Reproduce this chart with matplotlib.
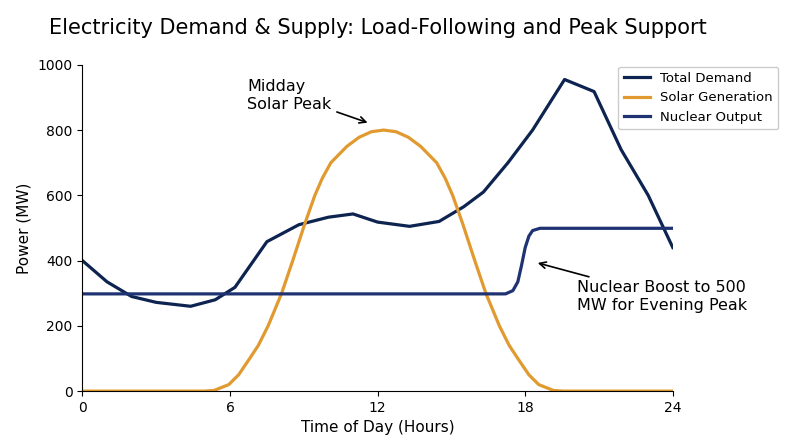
import matplotlib
matplotlib.use("Agg")
import matplotlib.pyplot as plt

demand_hours = [0, 1, 2, 3, 4.4, 5.4, 6.2, 7.5, 8.8, 10, 11, 12, 13.3, 14.5, 15.5, 16.3, 17.3, 18.3, 19.6, 20.8, 21.9, 23, 24]
demand_mw = [400, 335, 290, 272, 260, 280, 318, 458, 510, 533, 543, 518, 505, 520, 565, 610, 700, 800, 955, 918, 740, 600, 440]

solar_hours = [0, 4.95, 5.35, 5.95, 6.35, 6.8, 7.15, 7.55, 8.1, 8.55, 9.05, 9.45, 9.75, 10.1, 10.75, 11.25, 11.75, 12.25,
               12.75, 13.25, 13.75, 14.4, 14.75, 15.05, 15.45, 15.95, 16.4, 16.95, 17.35, 17.7, 18.15, 18.55, 19.15, 19.55, 24]
solar_mw = [0, 0, 2, 20, 50, 100, 140, 200, 300, 400, 515, 600, 652, 700, 750, 778, 795, 800,
            795, 778, 750, 700, 652, 600, 515, 400, 300, 200, 140, 100, 50, 20, 2, 0, 0]

nuclear_hours = [0, 17.2, 17.5, 17.7, 17.85, 18.0, 18.15, 18.3, 18.6, 24]
nuclear_mw = [298, 298, 308, 335, 385, 440, 475, 492, 499, 499]

fig, ax = plt.subplots(figsize=(8, 4.47), dpi=100)
ax.plot(demand_hours, demand_mw, color="#0d2350", lw=2.3, label="Total Demand")
ax.plot(solar_hours, solar_mw, color="#e09a30", lw=2.3, label="Solar Generation")
ax.plot(nuclear_hours, nuclear_mw, color="#1f3272", lw=2.3, label="Nuclear Output")
ax.set_xlim(0, 24)
ax.set_ylim(0, 1000)
ax.set_xticks([0, 6, 12, 18, 24])
ax.set_yticks([0, 200, 400, 600, 800, 1000])
ax.spines["top"].set_visible(False)
ax.spines["right"].set_visible(False)
ax.set_xlabel("Time of Day (Hours)", fontsize=11)
ax.set_ylabel("Power (MW)", fontsize=11)
ax.set_title("Electricity Demand & Supply: Load-Following and Peak Support", fontsize=15, pad=22)
ax.annotate("Midday\nSolar Peak", xy=(11.7, 820), xytext=(6.7, 906), fontsize=11.5,
            arrowprops=dict(arrowstyle="->", color="black", lw=1.2), va="center")
ax.annotate("Nuclear Boost to 500\nMW for Evening Peak", xy=(18.4, 395), xytext=(20.1, 290), fontsize=11.5,
            arrowprops=dict(arrowstyle="->", color="black", lw=1.2), va="center")
ax.legend(loc="upper right", bbox_to_anchor=(1.19, 1.015), fontsize=9.5, framealpha=1)
fig.subplots_adjust(left=0.103, right=0.841, top=0.855, bottom=0.125)
fig.savefig("out.png", dpi=100)
